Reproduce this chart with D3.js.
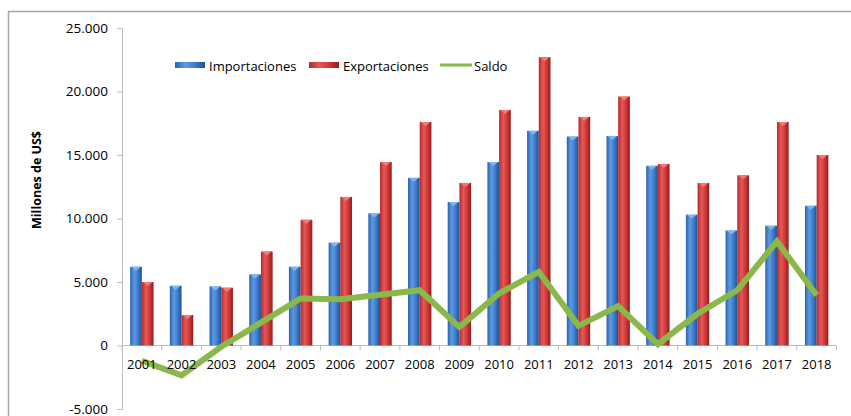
<!DOCTYPE html>
<html>
<head>
  <meta charset="utf-8">
  <style>
    body { margin: 0; background: #fff; }
    text { font-family: "Open Sans", sans-serif; fill: #000; }
  </style>
  <script src="https://d3js.org/d3.v7.min.js"></script>
</head>
<body>
  <div id="chart"></div>
  <script>
    const years = ["2001","2002","2003","2004","2005","2006","2007","2008","2009",
                   "2010","2011","2012","2013","2014","2015","2016","2017","2018"];
    const importaciones = [6200, 4700, 4650, 5600, 6200, 8100, 10400, 13200, 11300,
                           14450, 16900, 16450, 16500, 14150, 10300, 9050, 9430, 11000];
    const exportaciones = [5000, 2400, 4550, 7400, 9900, 11700, 14450, 17600, 12800,
                           18550, 22700, 18000, 19600, 14300, 12800, 13400, 17600, 15000];
    const saldo = [-1200, -2350, -100, 1800, 3700, 3650, 4000, 4350, 1450,
                   4100, 5800, 1550, 3100, 100, 2500, 4350, 8200, 3950];
    const yTicks = [-5000, 0, 5000, 10000, 15000, 20000, 25000];

    const width = 851, height = 416;
    const svg = d3.select("#chart").append("svg")
      .attr("width", width).attr("height", height);

    // gradients for the cylinder look
    const defs = svg.append("defs");
    function grad(id, stops) {
      const g = defs.append("linearGradient").attr("id", id)
        .attr("x1", "0%").attr("x2", "100%").attr("y1", "0%").attr("y2", "0%");
      stops.forEach(s => g.append("stop").attr("offset", s[0]).attr("stop-color", s[1]));
    }
    grad("gBlue", [["0%", "#2c62b0"], ["35%", "#5b9be3"], ["70%", "#3b78c8"], ["100%", "#1f4f92"]]);
    grad("gRed", [["0%", "#b92a2a"], ["35%", "#e45858"], ["70%", "#cf3434"], ["100%", "#8f1e1e"]]);

    // outer frame
    svg.append("path")
      .attr("d", `M8.5,${height} V11.5 H${width}`)
      .attr("fill", "none").attr("stroke", "#a6a6a6").attr("stroke-width", 1.5);

    const x0 = d3.scaleBand().domain(years).range([122, 836.5]).paddingInner(0).paddingOuter(0);
    const x1 = d3.scaleBand().domain(["imp", "exp"]).range([0, 23.4]);
    const barOffset = (x0.bandwidth() - 23.4) / 2;
    const y = d3.scaleLinear().domain([-5000, 25000]).range([409, 28]);

    // y axis
    const yAxis = svg.append("g").attr("transform", "translate(122,0)")
      .call(d3.axisLeft(y).tickValues(yTicks).tickSize(5).tickPadding(9)
        .tickFormat(d => d3.format(",")(d).replace(/,/g, ".").replace("\u2212", "-")));
    yAxis.select(".domain").attr("stroke", "#bdbdbd");
    yAxis.selectAll(".tick line").attr("stroke", "#bdbdbd");
    yAxis.selectAll("text").style("font-size", "13.5px");

    svg.append("text")
      .attr("transform", "translate(41,180) rotate(-90)")
      .attr("text-anchor", "middle")
      .style("font-size", "12.5px").style("font-weight", "bold")
      .text("Millones de US$");

    // x axis line and ticks at zero
    const xAxis = svg.append("g").attr("transform", `translate(0,${y(0)})`);
    xAxis.append("line")
      .attr("x1", x0.range()[0]).attr("x2", x0.range()[1])
      .attr("stroke", "#bdbdbd");
    xAxis.selectAll("line.tk")
      .data(years.concat(["end"]))
      .join("line").attr("class", "tk")
      .attr("x1", (d, i) => x0.range()[0] + i * x0.step())
      .attr("x2", (d, i) => x0.range()[0] + i * x0.step())
      .attr("y1", 0).attr("y2", 5)
      .attr("stroke", "#bdbdbd");

    // bars
    const rows = years.map((yr, i) => ({ year: yr, imp: importaciones[i], exp: exportaciones[i] }));
    const groups = svg.append("g").selectAll("g")
      .data(rows).join("g")
      .attr("transform", d => `translate(${x0(d.year) + barOffset},0)`);

    const series = [
      { key: "imp", fill: "url(#gBlue)", cap: "#7fb6f0" },
      { key: "exp", fill: "url(#gRed)", cap: "#f07a7a" }
    ];
    series.forEach(s => {
      groups.append("rect")
        .attr("x", x1(s.key))
        .attr("y", d => y(d[s.key]))
        .attr("width", x1.bandwidth())
        .attr("height", d => y(0) - y(d[s.key]))
        .attr("fill", s.fill);
      groups.append("path")
        .attr("d", d => {
          const xl = x1(s.key), w = x1.bandwidth(), t = y(d[s.key]);
          return `M${xl + 1},${t} H${xl + w - 1} L${xl + w / 2},${t + 4} Z`;
        })
        .attr("fill", s.cap);
    });

    // saldo line
    const line = d3.line()
      .x((d, i) => x0(years[i]) + x0.bandwidth() / 2)
      .y(d => y(d));
    svg.append("path")
      .datum(saldo)
      .attr("d", line)
      .attr("fill", "none")
      .attr("stroke", "#8ab84a")
      .attr("stroke-width", 6)
      .attr("stroke-linejoin", "miter");

    // category labels on top of the line
    svg.append("g").attr("transform", `translate(0,${y(0)})`)
      .call(d3.axisBottom(x0).tickSize(0).tickPadding(14))
      .call(g => g.select(".domain").remove())
      .selectAll("text").style("font-size", "13px");

    // legend
    const legend = svg.append("g").attr("transform", "translate(0,66)");
    legend.append("rect").attr("x", 175).attr("y", -4).attr("width", 30).attr("height", 6).attr("fill", "url(#gBlue)");
    legend.append("text").attr("x", 209).attr("y", 5).style("font-size", "13px").text("Importaciones");
    legend.append("rect").attr("x", 309).attr("y", -4).attr("width", 30).attr("height", 6).attr("fill", "url(#gRed)");
    legend.append("text").attr("x", 343).attr("y", 5).style("font-size", "13px").text("Exportaciones");
    legend.append("line").attr("x1", 440).attr("x2", 472).attr("y1", -1).attr("y2", -1)
      .attr("stroke", "#8ab84a").attr("stroke-width", 3);
    legend.append("text").attr("x", 474).attr("y", 5).style("font-size", "13px").text("Saldo");
  </script>
</body>
</html>
